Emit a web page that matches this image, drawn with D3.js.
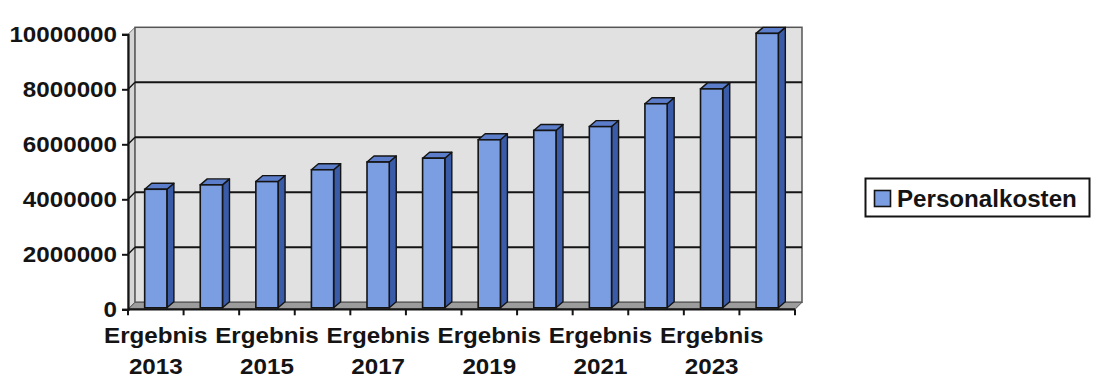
<!DOCTYPE html>
<html>
<head>
<meta charset="utf-8">
<script src="https://cdn.jsdelivr.net/npm/d3@7"></script>
<style>
  html, body { margin: 0; padding: 0; background: #ffffff; }
  svg { display: block; }
  text { font-family: "Liberation Sans", Arial, sans-serif; font-weight: bold; fill: #141414; }
</style>
</head>
<body>
<svg id="chart" width="1097" height="383"></svg>
<script>
// ---- data ----
const categories = ["Ergebnis 2013","Ergebnis 2014","Ergebnis 2015","Ergebnis 2016","Ergebnis 2017","Ergebnis 2018",
                    "Ergebnis 2019","Ergebnis 2020","Ergebnis 2021","Ergebnis 2022","Ergebnis 2023","Ergebnis 2024"];
const personalkosten = [4310000, 4470000, 4590000, 5020000, 5300000, 5440000,
                        6110000, 6450000, 6590000, 7420000, 7960000, 9980000];
const yTicks = [0, 2000000, 4000000, 6000000, 8000000, 10000000];
const seriesName = "Personalkosten";

// ---- layout ----
const svg = d3.select("#chart");
const plotLeft = 128, plotRight = 795, plotBase = 309.3, plotTop = 34.3;
const depthX = 7, depthY = 7;          // wall depth offset
const barDX = 7, barDY = 6;            // bar 3D offset
const barLift = 1.5;

const x = d3.scaleBand().domain(categories).range([plotLeft, plotRight]).paddingInner(0.6).paddingOuter(0.3);
const y = d3.scaleLinear().domain([0, 10000000]).range([plotBase, plotTop]);

const wallFill = "#e1e1e1";
const ink = "#141414";

// side wall
svg.append("polygon")
  .attr("points", [[plotLeft, y(10000000)], [plotLeft + depthX, y(10000000) - depthY], [plotLeft + depthX, y(0) - depthY], [plotLeft, y(0)]].join(" "))
  .attr("fill", "#d6d6d6").attr("stroke", "#777").attr("stroke-width", 1);

// back wall
svg.append("rect")
  .attr("x", plotLeft + depthX).attr("y", y(10000000) - depthY)
  .attr("width", plotRight - plotLeft).attr("height", y(0) - y(10000000))
  .attr("fill", wallFill).attr("stroke", "#555").attr("stroke-width", 1.5);

// gridlines
const grid = svg.append("g");
yTicks.filter(d => d > 0 && d < 10000000).forEach(d => {
  grid.append("line")
    .attr("x1", plotLeft + depthX).attr("x2", plotRight + depthX)
    .attr("y1", y(d) - depthY).attr("y2", y(d) - depthY)
    .attr("stroke", ink).attr("stroke-width", 2);
  grid.append("line")
    .attr("x1", plotLeft).attr("x2", plotLeft + depthX)
    .attr("y1", y(d)).attr("y2", y(d) - depthY)
    .attr("stroke", ink).attr("stroke-width", 1.5);
});

// floor
svg.append("polygon")
  .attr("points", [[plotLeft, y(0)], [plotRight, y(0)], [plotRight + depthX, y(0) - depthY], [plotLeft + depthX, y(0) - depthY]].join(" "))
  .attr("fill", "#9c9c9c").attr("stroke", "#555").attr("stroke-width", 1);

// bars
const bars = svg.append("g").selectAll("g").data(categories).join("g");
bars.each(function(c, i) {
  const g = d3.select(this);
  const x0 = x(c), x1 = x(c) + x.bandwidth();
  const yt = y(personalkosten[i]) - barLift, yb = y(0) - barLift;
  g.append("polygon")
    .attr("points", [[x1, yt], [x1 + barDX, yt - barDY], [x1 + barDX, yb - barDY], [x1, yb]].join(" "))
    .attr("fill", "#3a5ba8").attr("stroke", ink).attr("stroke-width", 1.4).attr("stroke-linejoin", "round");
  g.append("polygon")
    .attr("points", [[x0, yt], [x0 + barDX, yt - barDY], [x1 + barDX, yt - barDY], [x1, yt]].join(" "))
    .attr("fill", "#5b7dca").attr("stroke", ink).attr("stroke-width", 1.4).attr("stroke-linejoin", "round");
  g.append("rect")
    .attr("x", x0).attr("y", yt).attr("width", x.bandwidth()).attr("height", yb - yt)
    .attr("fill", "#7b9de2").attr("stroke", ink).attr("stroke-width", 1.6);
});

// y axis
const yAxis = svg.append("g").attr("transform", `translate(${plotLeft},0)`)
  .call(d3.axisLeft(y).tickValues(yTicks).tickSize(6).tickPadding(4).tickFormat(d3.format("d")));
yAxis.select(".domain").attr("stroke", ink).attr("stroke-width", 2.2);
yAxis.selectAll(".tick line").attr("stroke", ink).attr("stroke-width", 2);
yAxis.selectAll(".tick text")
  .attr("font-size", 22).attr("fill", ink)
  .attr("dy", "0.34em")
  .attr("transform", "scale(1.1,1)")
  .style("font-family", '"Liberation Sans", Arial, sans-serif').style("font-weight", "bold");

// x axis line and boundary ticks
const xAxis = svg.append("g").attr("transform", `translate(0,${plotBase})`)
  .call(d3.axisBottom(x).tickSize(0).tickFormat(""));
xAxis.select(".domain").attr("stroke", ink).attr("stroke-width", 2.2).attr("d", `M${plotLeft},0H${plotRight}`);
const bounds = categories.map(c => x(c) - x.step() * x.paddingOuter()).concat([plotRight]);
xAxis.selectAll(".bound").data(bounds).join("line").attr("class", "bound")
  .attr("x1", d => d).attr("x2", d => d).attr("y1", 0).attr("y2", 6)
  .attr("stroke", ink).attr("stroke-width", 2);

// x labels (every other category)
const labels = svg.append("g");
categories.forEach((c, i) => {
  if (i % 2 !== 0) return;
  const cx = x(c) + x.bandwidth() / 2;
  const parts = c.split(" ");
  [[parts[0], 343], [parts[1], 374]].forEach(([t, yy]) => {
    labels.append("g").attr("transform", `translate(${cx},${yy})`)
      .append("text").attr("text-anchor", "middle").attr("font-size", 22)
      .attr("transform", "scale(1.1,1)").text(t);
  });
});

// legend
const lg = svg.append("g");
lg.append("rect").attr("x", 865.5).attr("y", 178.5).attr("width", 224).attr("height", 38)
  .attr("fill", "#ffffff").attr("stroke", ink).attr("stroke-width", 2);
lg.append("rect").attr("x", 874.5).attr("y", 190.5).attr("width", 16).attr("height", 16)
  .attr("fill", "#7b9de2").attr("stroke", ink).attr("stroke-width", 1.6);
lg.append("g").attr("transform", "translate(897,207)")
  .append("text").attr("font-size", 23).attr("transform", "scale(1.05,1)").text(seriesName);
</script>
</body>
</html>
